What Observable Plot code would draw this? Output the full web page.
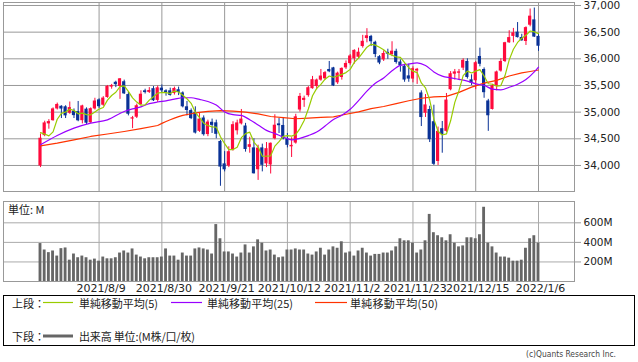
<!DOCTYPE html>
<html><head><meta charset="utf-8">
<script src="https://cdn.jsdelivr.net/npm/d3@7"></script>
<script src="https://cdn.jsdelivr.net/npm/@observablehq/plot@0.6"></script>
<style>
html,body{margin:0;padding:0;background:#fff;}
#wrap{position:relative;width:638px;height:362px;overflow:hidden;font-family:"DejaVu Sans",sans-serif;}
#wrap > svg, #wrap > figure, #wrap > div{position:absolute;left:0;margin:0;}
</style></head><body><div id="wrap"></div>
<script>
// ---- data (trading-day index 0 = 2021/7/20 ... 119 = 2022/1/6) ----
const tickIdx = [14, 29, 44, 59, 74, 89, 104, 119];
const tickLabels = ["2021/8/9","2021/8/30","2021/9/21","2021/10/12","2021/11/2","2021/11/23","2021/12/15","2022/1/6"];
const priceTicks = [34000, 34500, 35000, 35500, 36000, 36500, 37000];
const volTicks = [200, 400, 600];

const opens = [33990,34560,34780,34840,35060,35110,35100,34980,35020,35010,
34840,35056,34800,35060,35230,35130,35275,35470,35560,35480,
35570,35330,34870,34905,35140,35400,35370,35440,35220,35450,
35400,35400,35350,35420,35360,35100,35030,34990,34640,34890,
34580,34810,34800,34450,34030,33990,34290,34650,34780,34740,
34340,34330,33920,34330,34030,34010,34500,34780,34750,34500,
34350,34420,35040,35220,35310,35440,35480,35600,35625,35800,
35830,35550,35650,35830,35910,36000,36030,36230,36380,36420,
36310,36040,35980,36120,36080,36140,35940,35860,35680,35620,
35770,35360,34980,35050,34820,34075,34690,34640,35420,35712,
35730,35825,35950,35606,35588,36044,35800,35210,35050,35480,
35770,35950,36300,36420,36500,36400,36325,36630,36730,36420];
const highs = [34590,34830,34860,35080,35170,35120,35120,35190,35060,35200,
35130,35080,35080,35260,35250,35290,35500,35520,35580,35630,
35600,35370,34920,35150,35400,35430,35460,35480,35490,35510,
35420,35450,35470,35470,35380,35200,35060,35100,34990,34930,
34850,34870,34850,34470,34260,34350,34820,34850,35050,34790,
34530,34500,34380,34400,34430,34420,34950,34880,34900,34600,
34520,34960,35350,35300,35480,35670,35620,35800,35760,35950,
35840,35750,35830,35960,36080,36170,36200,36440,36565,36440,
36330,36060,36150,36180,36320,36180,35980,35900,35900,35850,
35820,35400,35330,35110,35130,34720,34825,35350,35760,35800,
35800,36000,36000,35700,35950,36200,35830,35240,35520,35770,
36000,36310,36527,36570,36680,36460,36600,36934,36952,36470];
const lows = [33960,34540,34680,34830,35040,34880,34880,34960,34880,34820,
34780,34770,34790,35040,35070,35110,35260,35430,35460,35240,
35330,34930,34690,34880,35130,35340,35350,35200,35180,35360,
35300,35300,35320,35310,35080,34930,34860,34590,34620,34550,
34540,34600,34500,33610,33880,33960,34270,34570,34760,34250,
34230,33840,33720,33880,33960,33840,34480,34600,34480,34330,
34150,34400,35000,35090,35280,35430,35420,35580,35600,35740,
35480,35520,35600,35800,35880,35900,36000,36200,36300,36230,
36020,35890,35950,35990,36040,35900,35750,35560,35560,35550,
35520,34730,34900,34430,34000,34000,34230,34620,35400,35600,
35600,35780,35620,35500,35420,35850,35260,34640,35040,35400,
35750,35930,36290,36300,36390,36330,36250,36600,36400,36140];
const closes = [34511,34798,34823,35061,35144,35058,34930,35085,34935,34838,
35117,34793,35065,35209,35102,35264,35485,35500,35515,35625,
35343,34961,34894,35120,35336,35367,35406,35214,35456,35400,
35361,35313,35444,35369,35100,35031,34879,34608,34870,34577,
34814,34752,34584,33970,33919,34258,34765,34798,34870,34300,
34390,33844,34326,34003,34315,34417,34755,34746,34496,34378,
34377,34912,35295,35259,35458,35609,35603,35677,35741,35757,
35491,35731,35820,35913,36053,36158,36124,36328,36432,36320,
36080,35921,36100,36087,36143,35931,35871,35602,35620,35814,
35804,34899,35136,34484,34022,34640,34580,35227,35720,35754,
35755,35971,35650,35544,35927,35898,35365,34932,35493,35754,
35951,36302,36398,36488,36398,36338,36585,36800,36408,36236];
const volumes = [388,322,295,312,260,336,343,218,281,243,
260,243,218,229,208,250,232,232,243,291,
312,291,333,270,250,232,243,243,243,250,
333,260,260,218,291,260,260,333,343,333,
322,281,582,437,302,302,281,250,291,374,
291,354,426,392,312,322,270,243,250,322,
322,333,322,322,281,270,302,340,270,322,
354,340,406,291,302,260,312,340,291,260,
277,277,291,291,312,354,437,416,416,392,
291,322,416,686,499,468,447,416,478,392,
354,364,447,447,437,478,759,392,354,291,
250,250,239,208,208,218,340,437,468,392];
// simple moving averages
const ma5 = [34616,34589,34556,34631,34867,34977,35003,35056,35030,34969,
34981,34954,34950,35004,35057,35087,35225,35312,35373,35478,
35494,35389,35268,35189,35131,35136,35225,35289,35356,35369,
35367,35349,35395,35377,35317,35251,35165,34997,34898,34793,
34750,34724,34719,34539,34408,34297,34299,34342,34522,34598,
34625,34440,34346,34173,34176,34181,34363,34447,34546,34558,
34550,34582,34692,34844,35060,35307,35445,35521,35618,35677,
35654,35679,35708,35742,35802,35935,36014,36115,36219,36272,
36257,36216,36171,36102,36066,36036,36026,35927,35833,35768,
35742,35548,35455,35227,34869,34636,34572,34591,34838,35184,
35407,35685,35770,35735,35769,35798,35677,35533,35523,35488,
35499,35686,35980,36179,36307,36385,36441,36522,36506,36473];
const ma25Idx = [0,4,8,12,16,20,22,24,26,28,30,32,34,36,38,40,42,44,46,48,50,52,54,56,58,60,62,64,66,68,70,72,74,76,78,80,82,84,86,88,90,92,94,96,98,100,102,104,106,108,110,112,114,116,118,119];
const ma25Val = [34387,34562,34700,34794,34856,35012,35060,35100,35159,35190,35213,35243,35270,35270,35239,35200,35134,35004,34952,34938,34858,34760,34658,34598,34535,34480,34509,34560,34626,34740,34863,34943,35055,35217,35394,35541,35641,35776,35876,35903,35925,35875,35755,35675,35644,35616,35583,35531,35502,35431,35417,35466,35524,35612,35756,35845];
const ma50Idx = [0,4,8,12,16,20,24,28,29,30,31,32,33,34,36,38,40,43,46,49,52,55,58,61,64,67,70,73,76,79,82,85,88,91,94,97,100,103,106,109,112,115,117,119];
const ma50Val = [34369,34419,34480,34544,34590,34637,34690,34750,34790,34825,34858,34888,34915,34940,34970,34995,35015,35030,35020,34999,34967,34918,34898,34876,34889,34902,34912,34961,35006,35066,35106,35159,35214,35261,35285,35297,35371,35470,35544,35596,35677,35735,35762,35790];

const RED = "#ff0a3c", BLUE = "#0a3296";
const XDOM = [-8.84, 127.6];

const candles = opens.map((o, i) => ({i, o, h: highs[i], l: lows[i], c: closes[i]}));
const up = candles.filter(d => d.c >= d.o);
const down = candles.filter(d => d.c < d.o);
const ma5Data = ma5.map((v, i) => ({i, v}));
const ma25Data = ma25Idx.map((i, k) => ({i, v: ma25Val[k]}));
const ma50Data = ma50Idx.map((i, k) => ({i, v: ma50Val[k]}));
const volData = volumes.map((v, i) => ({i, v}));

const wrap = document.getElementById("wrap");
const baseStyle = {background: "transparent", color: "#222", fontFamily: "DejaVu Sans", overflow: "visible"};

const topChart = Plot.plot({
  width: 638, height: 192,
  marginLeft: 3, marginRight: 64, marginTop: 1, marginBottom: 2,
  x: {domain: XDOM, axis: null},
  y: {domain: [33512, 37056], axis: null},
  style: baseStyle,
  marks: [
    Plot.ruleY(priceTicks, {stroke: "#999"}),
    Plot.ruleX(tickIdx, {stroke: "#999"}),
    Plot.frame({stroke: "#999"}),
    Plot.ruleX(up, {x: "i", y1: "l", y2: "h", stroke: RED}),
    Plot.ruleX(down, {x: "i", y1: "l", y2: "h", stroke: BLUE}),
    Plot.rect(up, {x1: d => d.i - 0.38, x2: d => d.i + 0.38, y1: "o", y2: "c", fill: RED}),
    Plot.rect(down, {x1: d => d.i - 0.38, x2: d => d.i + 0.38, y1: "o", y2: "c", fill: BLUE}),
    Plot.line(ma50Data, {x: "i", y: "v", stroke: "#ff3300", strokeWidth: 1.2}),
    Plot.line(ma25Data, {x: "i", y: "v", stroke: "#9900ff", strokeWidth: 1.2, curve: "monotone-x"}),
    Plot.line(ma5Data, {x: "i", y: "v", stroke: "#99cc00", strokeWidth: 1.2}),
    Plot.axisY({ticks: priceTicks, anchor: "right", label: null, tickFormat: d3.format(","), tickSize: 6, tickPadding: 3, fontSize: 10.5, stroke: "#999", fill: "#222"})
  ]
});
topChart.style.top = "1px";
wrap.appendChild(topChart);

const botChart = Plot.plot({
  width: 638, height: 100,
  marginLeft: 3, marginRight: 64, marginTop: 5, marginBottom: 15,
  x: {domain: XDOM, axis: null},
  y: {domain: [0, 818], axis: null},
  style: baseStyle,
  marks: [
    Plot.ruleY(volTicks, {stroke: "#aaa"}),
    Plot.ruleX(tickIdx, {stroke: "#aaa"}),
    Plot.frame({stroke: "#999"}),
    Plot.rect(volData, {x1: d => d.i - 0.34, x2: d => d.i + 0.34, y1: 0, y2: "v", fill: "#666"}),
    Plot.axisY({ticks: volTicks, anchor: "right", label: null, tickFormat: d => d + "M", tickSize: 6, tickPadding: 3, fontSize: 10.5, stroke: "#999", fill: "#222"}),
    Plot.axisX({ticks: tickIdx, anchor: "bottom", label: null, tickFormat: i => tickLabels[tickIdx.indexOf(i)], tickSize: 0, tickPadding: 3, fontSize: 11, fill: "#222", dx: 2})
  ]
});
botChart.style.top = "196px";
wrap.appendChild(botChart);

// legend, unit label and credit
const svg = d3.select(wrap).append("svg")
  .attr("width", 638).attr("height", 362)
  .style("top", "0px").style("pointer-events", "none");
const cjk = '"Noto Sans CJK JP", "DejaVu Sans", sans-serif';
svg.append("text").attr("x", 8).attr("y", 214).attr("font-family", cjk).attr("font-size", 11).attr("fill", "#222").text("単位: M");
svg.append("rect").attr("x", 3.5).attr("y", 295.5).attr("width", 631).attr("height", 50).attr("fill", "none").attr("stroke", "#000");
const legRow1 = [
  {x1: 43, x2: 73, color: "#99cc00", label: "単純移動平均(5)", tx: 79, tl: 79},
  {x1: 171, x2: 202, color: "#9900ff", label: "単純移動平均(25)", tx: 207, tl: 86},
  {x1: 315, x2: 347, color: "#ff3300", label: "単純移動平均(50)", tx: 350, tl: 88}
];
svg.append("text").attr("x", 12).attr("y", 308).attr("font-family", cjk).attr("font-size", 11).attr("fill", "#222").text("上段：");
legRow1.forEach(d => {
  svg.append("line").attr("x1", d.x1).attr("x2", d.x2).attr("y1", 302.5).attr("y2", 302.5).attr("stroke", d.color).attr("stroke-width", 1.2);
  svg.append("text").attr("x", d.tx).attr("y", 308).attr("font-family", cjk).attr("font-size", 11).attr("fill", "#222")
    .attr("textLength", d.tl).attr("lengthAdjust", "spacing").text(d.label);
});
svg.append("text").attr("x", 12).attr("y", 340.5).attr("font-family", cjk).attr("font-size", 11).attr("fill", "#222").text("下段：");
svg.append("line").attr("x1", 43).attr("x2", 73).attr("y1", 336).attr("y2", 336).attr("stroke", "#666").attr("stroke-width", 3);
svg.append("text").attr("x", 79).attr("y", 340.5).attr("font-family", cjk).attr("font-size", 11).attr("fill", "#222")
  .attr("textLength", 116).attr("lengthAdjust", "spacing").text("出来高 単位:(M株/口/枚)");
svg.append("text").attr("x", 526).attr("y", 357).attr("font-family", '"DejaVu Sans Condensed", "DejaVu Sans", sans-serif').attr("font-size", 9.5).attr("fill", "#444")
  .attr("textLength", 90).attr("lengthAdjust", "spacingAndGlyphs").text("(c)Quants Research Inc.");
</script>
</body></html>
